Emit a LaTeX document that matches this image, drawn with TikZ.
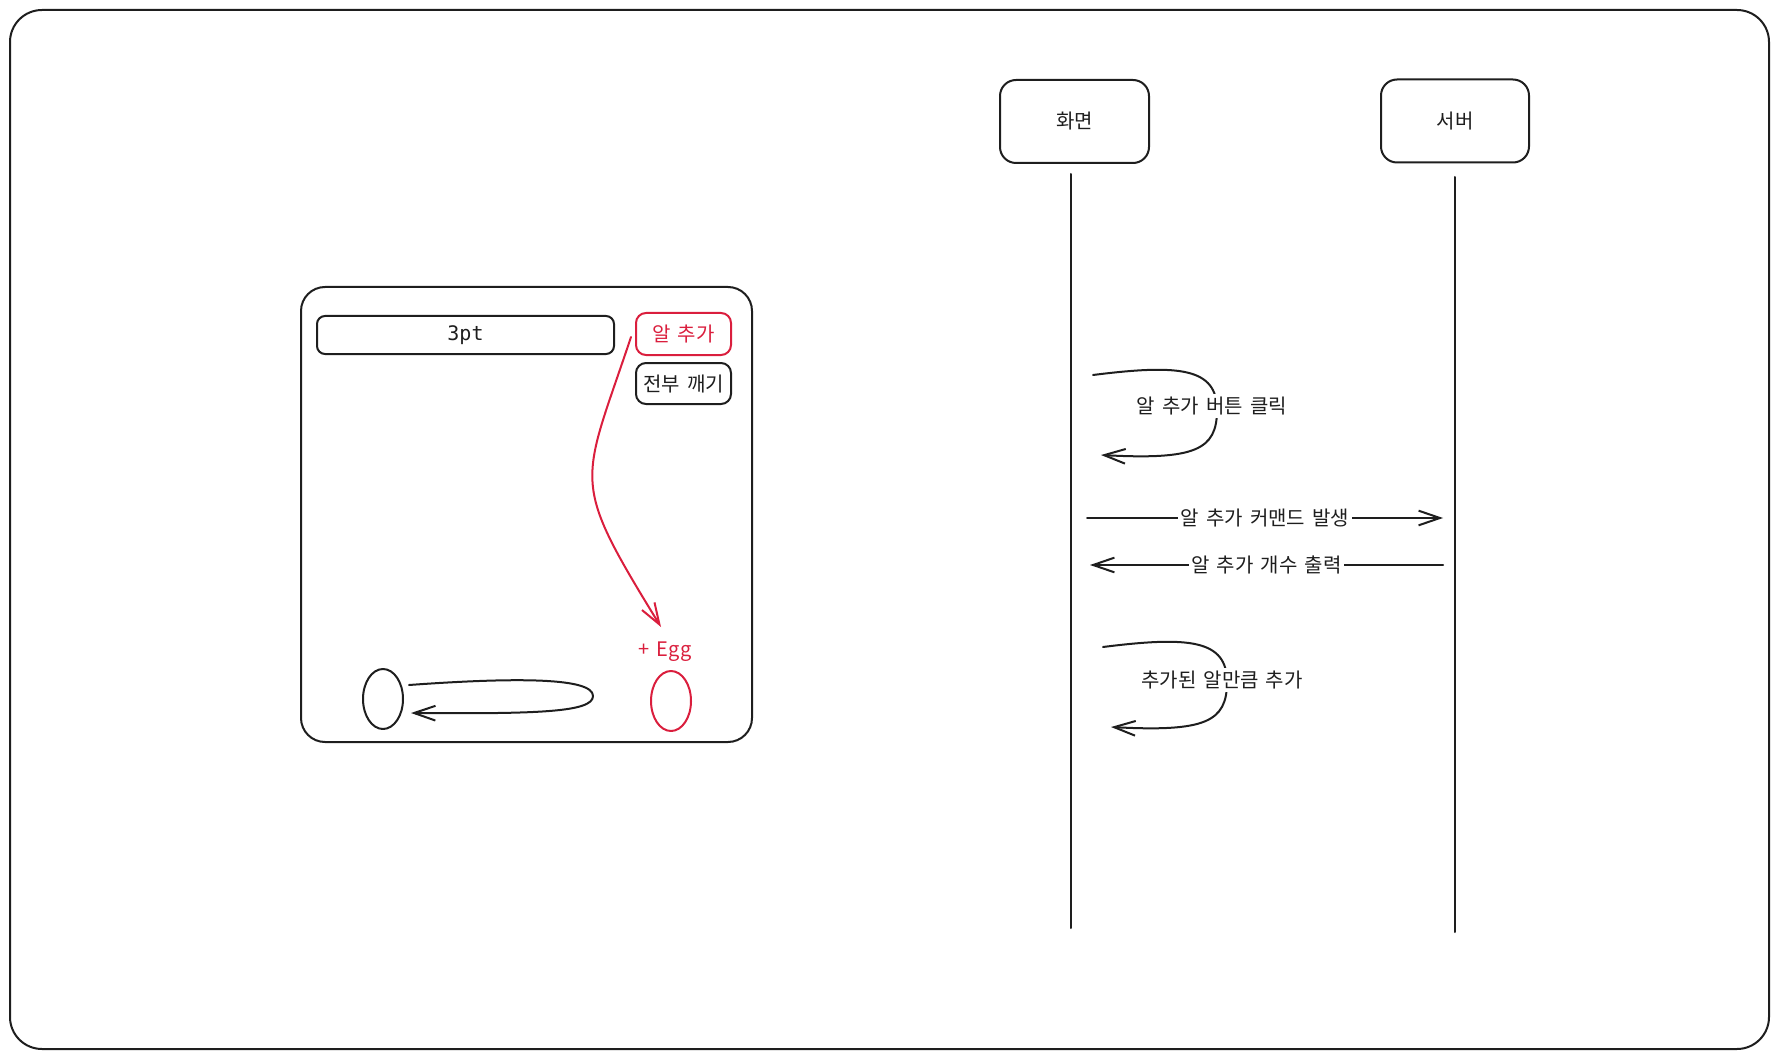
\documentclass[tikz,border=0pt]{standalone}
\usepackage{fontspec}
\setmainfont[WordSpace=1.6]{Noto Sans CJK KR}
\newfontfamily\monofont{DejaVu Sans Mono}
\usetikzlibrary{arrows.meta,shapes.geometric,calc}
\definecolor{ink}{HTML}{1E1E1E}
\definecolor{exred}{HTML}{DA1E3D}
\begin{document}
\begin{tikzpicture}[x=0.75pt,y=-0.75pt,line cap=round,line join=round,
  every node/.style={font=\fontsize{15pt}{18pt}\selectfont,text=ink},
  box/.style={draw=ink,line width=1.5pt,rectangle,rounded corners=#1,inner sep=0pt},
  box/.default=6pt,
  egg/.style={ellipse,draw=ink,line width=1.5pt,minimum width=30pt,minimum height=45pt,inner sep=0pt},
  conn/.style={draw=ink,line width=1.5pt},
  arr/.style={conn,-{Straight Barb[length=16pt,width=11pt]}},
  lbl/.style={fill=white,inner sep=2pt}]
\useasboundingbox (0,0) rectangle (1778,1059);
% outer frame
\node[box=24pt,minimum width=1319.25pt,minimum height=779.25pt] (frame) at (889.5,529.5) {};
% left panel
\node[box=18pt,minimum width=338.25pt,minimum height=341.25pt] (panel) at (526.5,514.5) {};
\node[box=6pt,minimum width=222.75pt,minimum height=28.5pt,font=\monofont\fontsize{15pt}{18pt}\selectfont] (pts) at (465.5,335) {3pt};
\node[box=7.5pt,draw=exred,text=exred,minimum width=71.25pt,minimum height=31.5pt] (addbtn) at (683.5,334) {알 추가};
\node[box=7.5pt,minimum width=71.25pt,minimum height=30.75pt] (breakbtn) at (683.5,383.5) {전부 깨기};
\node[egg] (egg1) at (383,699) {};
\node[egg,draw=exred] (egg2) at (671,701) {};
\node[text=exred] (eggtxt) at (665,652) {+ Egg};
% red arrow
\coordinate (rs) at ($(addbtn.west)+(-4,3)$);
\coordinate (re) at (661,627);
\draw[arr,draw=exred] (rs) .. controls (581,487) and (569,477) .. (re);
% black loop arrow
\coordinate (ls) at ($(egg1.east)+(5,-14)$);
\coordinate (le) at ($(egg1.east)+(7,14)$);
\draw[arr] (ls) .. controls (520,677) and (593,678) .. (593,696) .. controls (593,712) and (540,714) .. (le);
% sequence participants
\node[box=12pt,minimum width=111.75pt,minimum height=62.25pt] (scr) at (1074.5,121.5) {화면};
\node[box=12pt,minimum width=111pt,minimum height=62.25pt] (srv) at (1455,121) {서버};
\coordinate (l1a) at (1071,174);
\coordinate (l1b) at (1071,928);
\coordinate (l2a) at (1455,177);
\coordinate (l2b) at (1455,932);
\draw[conn] (l1a) -- (l1b);
\draw[conn] (l2a) -- (l2b);
% self message 1
\coordinate (s1a) at (1093,375);
\coordinate (s1b) at (1101,455);
\draw[arr] (s1a) .. controls (1180,364) and (1217,368) .. (1217,410) .. controls (1217,450) and (1195,460) .. (s1b);
\node[lbl] (m1) at (1212,406) {알 추가 버튼 클릭};
% message 2
\coordinate (m2a) at (1087,518);
\coordinate (m2b) at (1443,518);
\draw[arr] (m2a) -- node[lbl] (m2) {알 추가 커맨드 발생} (m2b);
% message 3
\coordinate (m3a) at (1443,565);
\coordinate (m3b) at (1090,565);
\draw[arr] (m3a) -- node[lbl] (m3) {알 추가 개수 출력} (m3b);
% self message 4
\coordinate (s4a) at (1103,647);
\coordinate (s4b) at (1111,727);
\draw[arr] (s4a) .. controls (1190,636) and (1227,640) .. (1227,682) .. controls (1227,722) and (1205,732) .. (s4b);
\node[lbl] (m4) at (1222,680) {추가된 알만큼 추가};
\end{tikzpicture}
\end{document}
